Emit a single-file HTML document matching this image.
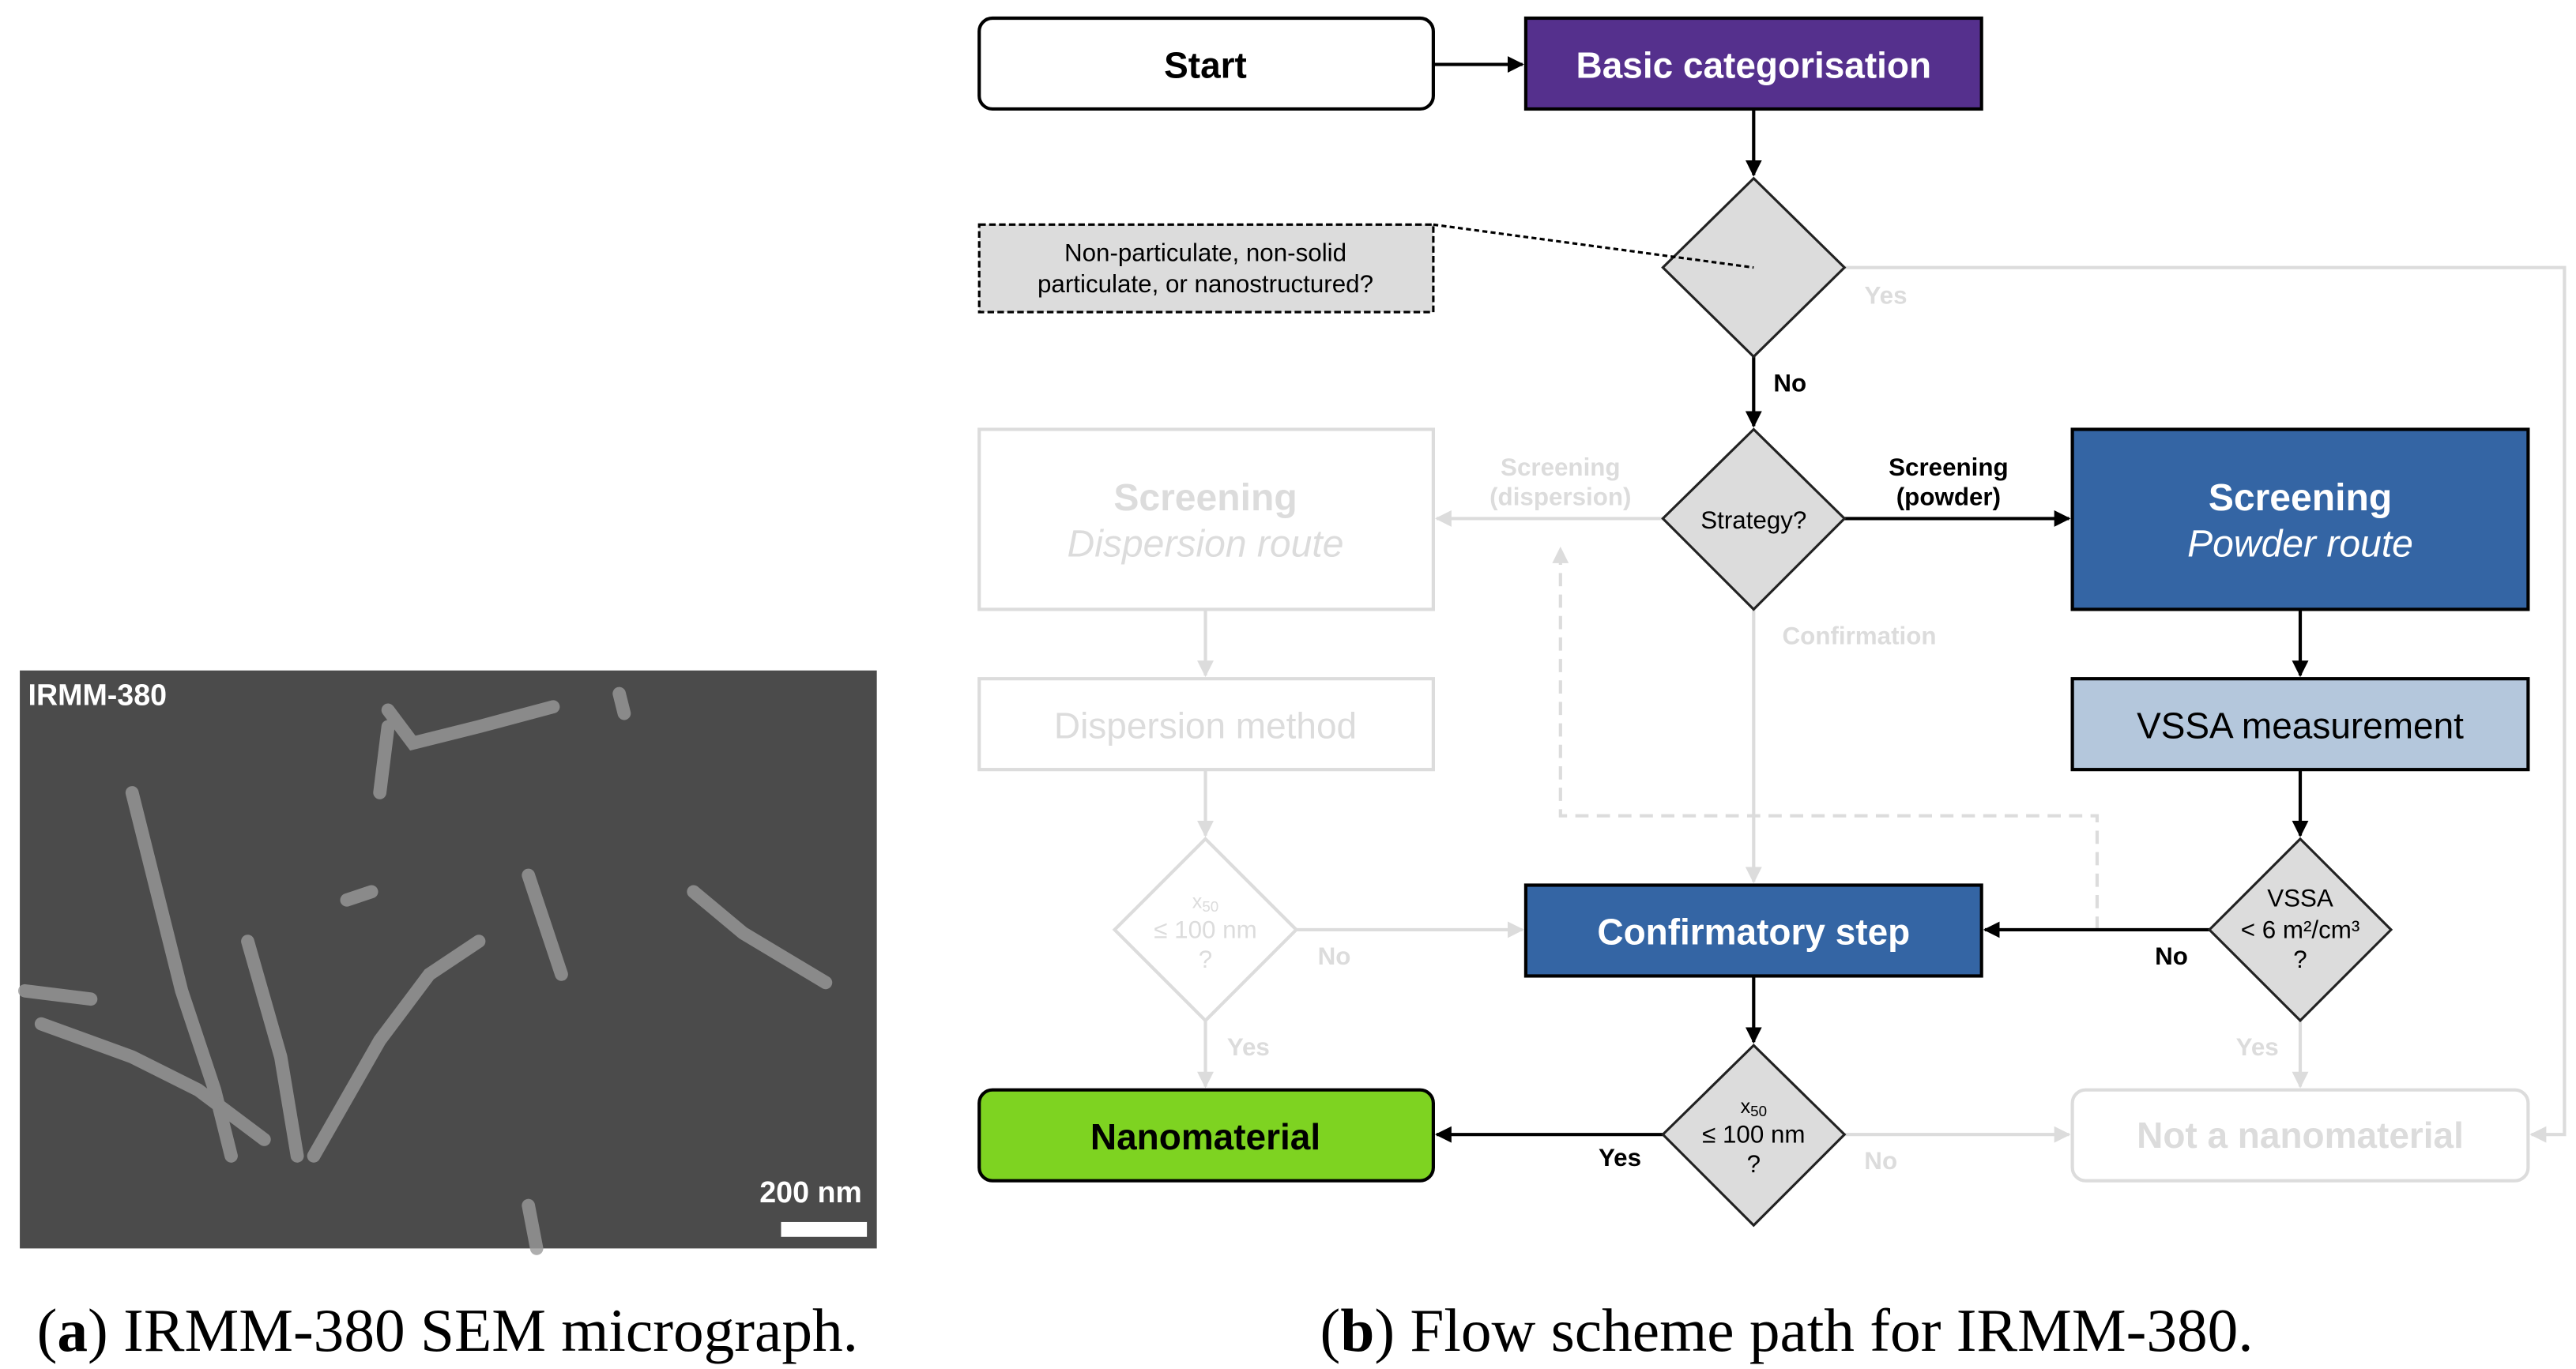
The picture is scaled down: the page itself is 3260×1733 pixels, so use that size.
<!DOCTYPE html>
<html><head><meta charset="utf-8"><style>
html,body{margin:0;padding:0;background:#fff;}
svg{display:block;}
</style></head><body>
<svg width="3260" height="1733" viewBox="0 0 1560 829" preserveAspectRatio="none" xmlns="http://www.w3.org/2000/svg" font-family="Liberation Sans, sans-serif">
<defs>
<marker id="ab" markerWidth="10" markerHeight="10" refX="9" refY="5" orient="auto" markerUnits="userSpaceOnUse"><path d="M0,0 L10,5 L0,10 z" fill="#000"/></marker>
<marker id="ag" markerWidth="10" markerHeight="10" refX="9" refY="5" orient="auto" markerUnits="userSpaceOnUse"><path d="M0,0 L10,5 L0,10 z" fill="#dcdcdc"/></marker>
</defs>
<!-- SEM image -->
<rect x="12" y="406" width="519" height="350" fill="#4b4b4b"/>
<g fill="none" stroke="#9a9a9a" stroke-width="8" stroke-linecap="round" opacity="0.8">
<path d="M80,480 L95,540 L110,600 L130,660 L140,700"/>
<path d="M150,570 L170,640 L180,700"/>
<path d="M25,620 L80,640 L120,660 L160,690"/>
<path d="M190,700 L230,630 L260,590 L290,570"/>
<path d="M235,430 L250,450 L290,440 L335,428"/>
<path d="M235,440 L230,480"/>
<path d="M420,540 L450,565 L500,595"/>
<path d="M210,545 L225,540"/>
<path d="M320,530 L330,560 L340,590"/>
<path d="M15,600 L55,605"/>
<path d="M320,730 L325,756"/>
<path d="M375,420 L378,432"/>
</g>
<text x="17" y="427" font-size="18" font-weight="bold" fill="#fff">IRMM-380</text>
<text x="460" y="728" font-size="18" font-weight="bold" fill="#fff">200 nm</text>
<rect x="473" y="740" width="52" height="9" fill="#fff"/>
<!-- Gray (inactive) elements -->
<g stroke="#dcdcdc" stroke-width="2" fill="none">
<rect x="593" y="260" width="275" height="109" fill="#fff"/>
<rect x="593" y="411" width="275" height="55" fill="#fff"/>
<rect x="1255" y="660" width="276" height="55" rx="8" fill="#fff"/>
<path d="M730,508 L785,563 L730,618 L675,563 Z" fill="#fff"/>
<line x1="1007" y1="314" x2="870" y2="314" marker-end="url(#ag)"/>
<line x1="730" y1="369" x2="730" y2="409" marker-end="url(#ag)"/>
<line x1="730" y1="466" x2="730" y2="506" marker-end="url(#ag)"/>
<line x1="785" y1="563" x2="922" y2="563" marker-end="url(#ag)"/>
<line x1="730" y1="618" x2="730" y2="658" marker-end="url(#ag)"/>
<line x1="1062" y1="369" x2="1062" y2="534" marker-end="url(#ag)"/>
<line x1="1393" y1="618" x2="1393" y2="658" marker-end="url(#ag)"/>
<line x1="1117" y1="687" x2="1253" y2="687" marker-end="url(#ag)"/>
<polyline points="1117,162 1553,162 1553,687 1533,687" marker-end="url(#ag)"/>
<polyline points="1270,563 1270,494 945,494 945,332" stroke-dasharray="8,5" marker-end="url(#ag)"/>
</g>
<g fill="#dcdcdc" font-weight="bold" text-anchor="middle">
<text x="730" y="309" font-size="23">Screening</text>
<text x="730" y="337" font-size="23" font-style="italic" font-weight="normal">Dispersion route</text>
<text x="730" y="447" font-size="22" font-weight="normal">Dispersion method</text>
<text x="1393" y="695" font-size="22">Not a nanomaterial</text>
<text x="945" y="288" font-size="15">Screening</text>
<text x="945" y="306" font-size="15">(dispersion)</text>
<text x="1142" y="184" font-size="15">Yes</text>
<text x="1126" y="390" font-size="15">Confirmation</text>
<text x="808" y="584" font-size="15">No</text>
<text x="756" y="639" font-size="15">Yes</text>
<text x="1367" y="639" font-size="15">Yes</text>
<text x="1139" y="708" font-size="15">No</text>
<text x="730" y="550" font-size="12" font-weight="normal">x<tspan font-size="9" dy="2">50</tspan></text>
<text x="730" y="568" font-size="15" font-weight="normal">≤ 100 nm</text>
<text x="730" y="586" font-size="15" font-weight="normal">?</text>
</g>
<!-- Active elements -->
<rect x="593" y="11" width="275" height="55" rx="8" fill="#fff" stroke="#000" stroke-width="2"/>
<text x="730" y="47" font-size="22" font-weight="bold" text-anchor="middle">Start</text>
<rect x="924" y="11" width="276" height="55" fill="#55308d" stroke="#000" stroke-width="2"/>
<text x="1062" y="47" font-size="22" font-weight="bold" text-anchor="middle" fill="#fff">Basic categorisation</text>
<g stroke="#000" stroke-width="2" fill="none">
<line x1="868" y1="39" x2="922" y2="39" marker-end="url(#ab)"/>
<line x1="1062" y1="66" x2="1062" y2="106" marker-end="url(#ab)"/>
<line x1="1062" y1="216" x2="1062" y2="258" marker-end="url(#ab)"/>
<line x1="1117" y1="314" x2="1253" y2="314" marker-end="url(#ab)"/>
<line x1="1393" y1="369" x2="1393" y2="409" marker-end="url(#ab)"/>
<line x1="1393" y1="466" x2="1393" y2="506" marker-end="url(#ab)"/>
<line x1="1338" y1="563" x2="1202" y2="563" marker-end="url(#ab)"/>
<line x1="1062" y1="591" x2="1062" y2="631" marker-end="url(#ab)"/>
<line x1="1007" y1="687" x2="870" y2="687" marker-end="url(#ab)"/>
</g>
<g fill="#dcdcdc" stroke="#222" stroke-width="1.5">
<path d="M1062,108 L1117,162 L1062,216 L1007,162 Z"/>
<path d="M1062,260 L1117,314 L1062,369 L1007,314 Z"/>
<path d="M1393,508 L1448,563 L1393,618 L1338,563 Z"/>
<path d="M1062,633 L1117,687 L1062,742 L1007,687 Z"/>
</g>
<rect x="593" y="136" width="275" height="53" fill="#dcdcdc" stroke="#000" stroke-width="1.5" stroke-dasharray="4,2"/>
<line x1="868" y1="136" x2="1062" y2="162" stroke="#000" stroke-width="1.5" stroke-dasharray="3,2"/>
<g text-anchor="middle" font-size="15">
<text x="730" y="158">Non-particulate, non-solid</text>
<text x="730" y="177">particulate, or nanostructured?</text>
<text x="1062" y="320">Strategy?</text>
<text x="1393" y="549">VSSA</text>
<text x="1393" y="568">&lt; 6 m²/cm³</text>
<text x="1393" y="586">?</text>
<text x="1062" y="674" font-size="12">x<tspan font-size="9" dy="2">50</tspan></text>
<text x="1062" y="692">≤ 100 nm</text>
<text x="1062" y="710">?</text>
</g>
<g font-weight="bold" font-size="15" text-anchor="middle">
<text x="1084" y="237">No</text>
<text x="1180" y="288">Screening</text>
<text x="1180" y="306">(powder)</text>
<text x="1315" y="584">No</text>
<text x="981" y="706">Yes</text>
</g>
<rect x="1255" y="260" width="276" height="109" fill="#3465a4" stroke="#000" stroke-width="2"/>
<text x="1393" y="309" font-size="23" font-weight="bold" text-anchor="middle" fill="#fff">Screening</text>
<text x="1393" y="337" font-size="23" font-style="italic" text-anchor="middle" fill="#fff">Powder route</text>
<rect x="1255" y="411" width="276" height="55" fill="#b4c7dc" stroke="#000" stroke-width="2"/>
<text x="1393" y="447" font-size="22" text-anchor="middle">VSSA measurement</text>
<rect x="924" y="536" width="276" height="55" fill="#3465a4" stroke="#000" stroke-width="2"/>
<text x="1062" y="572" font-size="22" font-weight="bold" text-anchor="middle" fill="#fff">Confirmatory step</text>
<rect x="593" y="660" width="275" height="55" rx="8" fill="#7ed321" stroke="#000" stroke-width="2"/>
<text x="730" y="696" font-size="22" font-weight="bold" text-anchor="middle">Nanomaterial</text>
<!-- Captions -->
<g font-family="Liberation Serif, serif" font-size="37" text-anchor="middle">
<text x="271" y="818">(<tspan font-weight="bold">a</tspan>) IRMM-380 SEM micrograph.</text>
<text x="1082" y="818">(<tspan font-weight="bold">b</tspan>) Flow scheme path for IRMM-380.</text>
</g>
</svg>
</body></html>
